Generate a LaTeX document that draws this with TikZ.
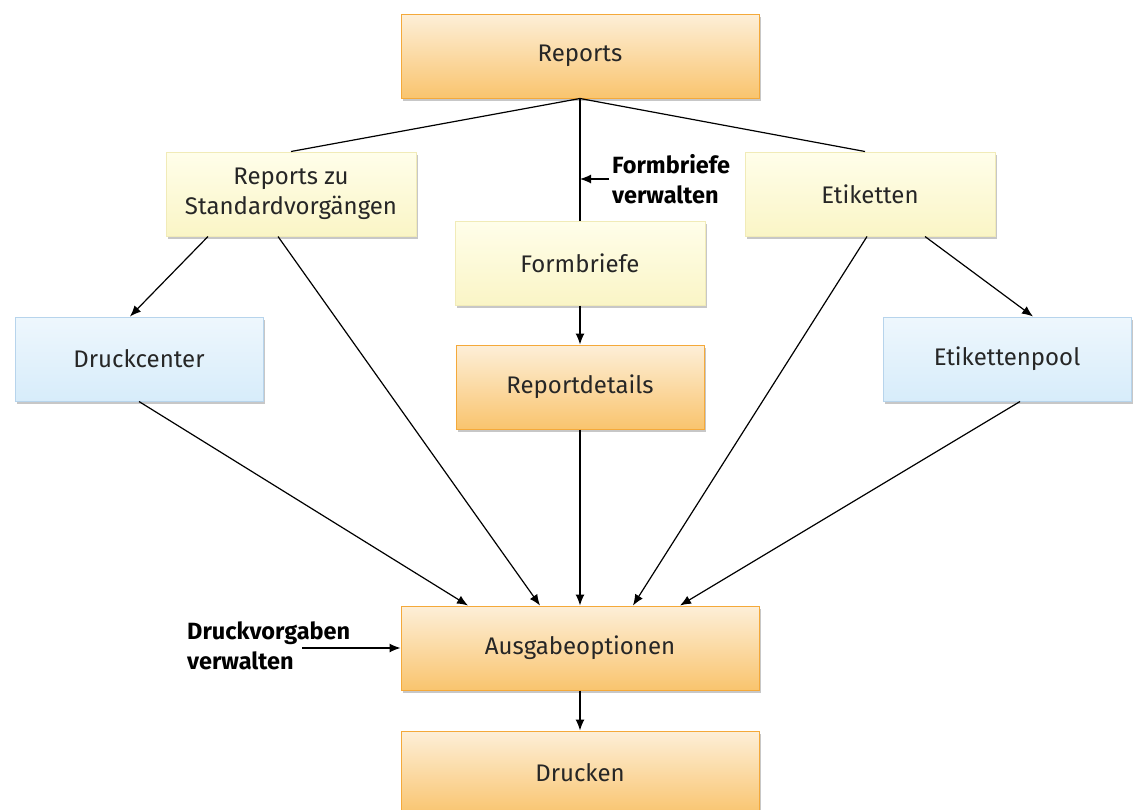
\documentclass[tikz,border=0pt]{standalone}
\usepackage{fontspec}
\setmainfont{Fira Sans}
\usetikzlibrary{shadows,arrows.meta}

\definecolor{orangetop}{HTML}{FDEFD8}
\definecolor{orangebot}{HTML}{F9C46E}
\definecolor{orangeline}{HTML}{F4A93A}
\definecolor{yellowtop}{HTML}{FFFEEA}
\definecolor{yellowbot}{HTML}{FAF5C6}
\definecolor{yellowline}{HTML}{F1EBB8}
\definecolor{bluetop}{HTML}{EEF7FD}
\definecolor{bluebot}{HTML}{D7ECFA}
\definecolor{blueline}{HTML}{B7D4EC}

\begin{document}
\begin{tikzpicture}[
        x=1pt, y=-1pt,
        every node/.style={font=\fontsize{24}{30}\selectfont, text=black!85},
        box/.style={rectangle, align=center, line width=1pt, minimum height=84pt,
            drop shadow={shadow xshift=2pt, shadow yshift=-3pt, fill=black, opacity=0.22}},
        orangen/.style={box, draw=orangeline, top color=orangetop, bottom color=orangebot, minimum width=358pt},
        yellown/.style={box, draw=yellowline, top color=yellowtop, bottom color=yellowbot, minimum width=250pt},
        bluen/.style={box, draw=blueline, top color=bluetop, bottom color=bluebot, minimum width=248pt},
        note/.style={font=\bfseries\fontsize{23.5}{30}\selectfont, text=black, align=left, anchor=west, inner sep=0pt},
        link/.style={draw, line width=1.2pt},
        arrow/.style={link, -{Latex[length=11pt, width=9pt]}},
    ]
    \clip (0,0) rectangle (1133,809);
    \fill[white] (0,0) rectangle (1133,809);

    \node[orangen](reports) at (580,56){Reports};
    \node[yellown](standard) at (291,194){Reports zu\\Standardvorgängen};
    \node[yellown](formbriefe) at (580,263){Formbriefe};
    \node[yellown](etiketten) at (870,194){Etiketten};
    \node[bluen](druckcenter) at (139,359){Druckcenter};
    \node[orangen, minimum width=248pt](reportdetails) at (580,387){Reportdetails};
    \node[bluen](etikettenpool) at (1007,359){Etikettenpool};
    \node[orangen](ausgabe) at (580,648){Ausgabeoptionen};
    \node[orangen](drucken) at (580,773){Drucken};

    \node[note](fbverwalten) at (612,179){Formbriefe\\verwalten};
    \node[note](dvverwalten) at (187,646){Druckvorgaben\\verwalten};
    \coordinate (dvstart) at (302,648);

    \draw[link] (reports.south) -- (standard.north);
    \draw[link] (reports.south) -- ([xshift=-5pt]etiketten.north);
    \draw[link] (reports.south) -- (formbriefe.north);
    \draw[arrow] ([xshift=-3pt]fbverwalten.west) -- (fbverwalten.west -| formbriefe.north);

    \draw[arrow] ([xshift=-83pt]standard.south) -- ([xshift=-9pt]druckcenter.north);
    \draw[arrow] ([xshift=-13pt]standard.south) -- ([xshift=-40pt]ausgabe.north);
    \draw[arrow] (druckcenter.south) -- ([xshift=-112pt]ausgabe.north);
    \draw[arrow] (formbriefe.south) -- (reportdetails.north);
    \draw[arrow] (reportdetails.south) -- (ausgabe.north);
    \draw[arrow] ([xshift=-3pt]etiketten.south) -- ([xshift=53pt]ausgabe.north);
    \draw[arrow] ([xshift=55pt]etiketten.south) -- ([xshift=26pt]etikettenpool.north);
    \draw[arrow] ([xshift=13pt]etikettenpool.south) -- ([xshift=100pt]ausgabe.north);
    \draw[arrow] (dvstart) -- (ausgabe.west);
    \draw[arrow] (ausgabe.south) -- (drucken.north);
    \end{tikzpicture}
\end{document}
